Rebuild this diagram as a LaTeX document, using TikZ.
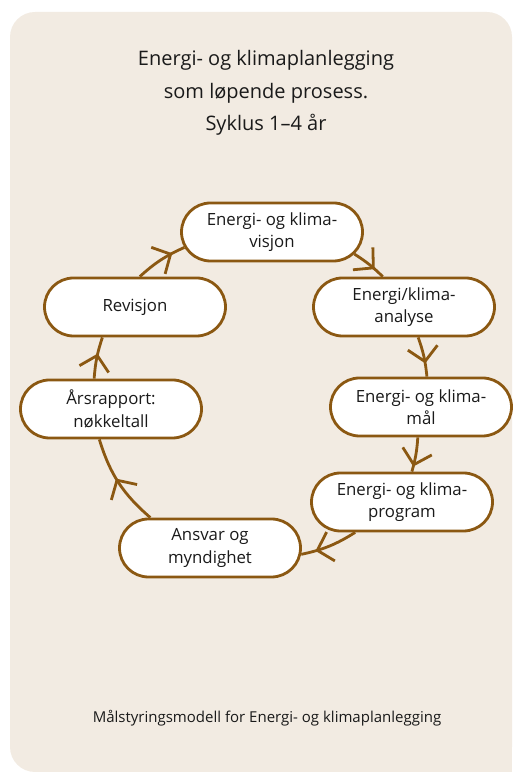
\documentclass[tikz,border=0pt]{standalone}
\usepackage{fontspec}
\setmainfont{Open Sans}
\usepackage{tikz}
\usetikzlibrary{positioning,shapes.misc,arrows.meta,decorations.markings}

\definecolor{linebrown}{RGB}{139,88,18}
\definecolor{paper}{RGB}{242,235,226}
\definecolor{ink}{RGB}{26,26,26}

\tikzset{
	stage/.style={rounded rectangle, draw=linebrown, fill=white, line width=2.8pt,
		minimum width=185pt, minimum height=58pt, inner sep=2pt, align=center,
		text=ink, font=\fontsize{16.8}{22.5}\selectfont},
	flow/.style={draw=linebrown, line width=2.8pt, postaction={decorate},
		decoration={markings, mark=at position #1 with
			{\arrow{Straight Barb[length=14pt, width=30pt, line width=2.8pt]}}}},
}

\begin{document}
\begin{tikzpicture}[x=1pt, y=1pt]
	\useasboundingbox (0,0) rectangle (512,772);
	\fill[paper, rounded corners=25pt] (10,0) -- (10,760) -- (512,760) -- (512,0) -- cycle;
	\fill[paper] (400,0) rectangle (512,100);

	\node[text=ink, align=center, font=\fontsize{20}{32.5}\selectfont] (title) at (266,679)
		{Energi- og klimaplanlegging\\som løpende prosess.\\Syklus 1–4 år};
	\node[text=ink, font=\fontsize{15}{18}\selectfont] (caption) at (267,54)
		{Målstyringsmodell for Energi- og klimaplanlegging};

	\node[stage] (visjon) at (272,540) {Energi- og klima-\\visjon};
	\node[stage] (analyse) at (404,465) {Energi/klima-\\analyse};
	\node[stage] (maal) at (421,365) {Energi- og klima-\\mål};
	\node[stage] (program) at (402,270) {Energi- og klima-\\program};
	\node[stage] (ansvar) at (210,224) {Ansvar og\\myndighet};
	\node[stage] (aarsrapport) at (111,363) {Årsrapport:\\nøkkeltall};
	\node[stage] (revisjon) at (135,465) {Revisjon};

	\draw[flow=0.7] (visjon.-15) to[bend left=6] (analyse.125);
	\draw[flow=0.67] (analyse.-65) to[bend left=7] (maal.79);
	\draw[flow=0.85] (maal.-96) to[bend left=6] (program.72);
	\draw[flow=0.75] (program.-147) to[bend left=10] (ansvar.-4);
	\draw[flow=0.55] (ansvar.153) to[bend left=16] (aarsrapport.-111);
	\draw[flow=0.6] (aarsrapport.119) to[bend left=7] (revisjon.-137);
	\draw[flow=0.75] (revisjon.81) to[bend left=9] (visjon.190);
\end{tikzpicture}
\end{document}
